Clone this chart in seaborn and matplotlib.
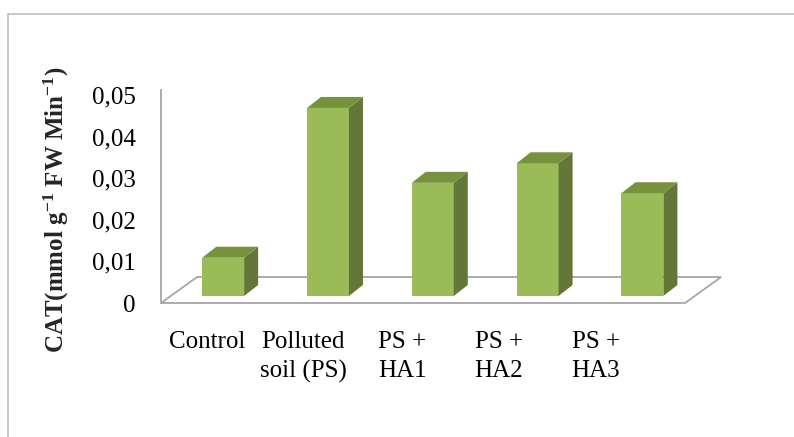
import matplotlib
matplotlib.use("Agg")
import matplotlib.pyplot as plt
from matplotlib.patches import Polygon
from matplotlib.lines import Line2D
from matplotlib.ticker import FuncFormatter
from matplotlib.transforms import Affine2D
import seaborn as sns

# Data
categories = ["Control", "Polluted\nsoil (PS)", "PS +\nHA1", "PS +\nHA2", "PS +\nHA3"]
cat_values = [0.0092, 0.0452, 0.0272, 0.0319, 0.0247]
y_ticks = [0, 0.01, 0.02, 0.03, 0.04, 0.05]

sns.set_theme(style="white")
plt.rcParams["font.family"] = ["Liberation Serif", "DejaVu Serif"]
plt.rcParams["mathtext.fontset"] = "custom"
plt.rcParams["mathtext.rm"] = "Liberation Serif:bold"
plt.rcParams["mathtext.default"] = "rm"

FRONT = "#9BBB59"
TOP = "#77923C"
SIDE = "#637838"
GRID = "#a6a6a6"

fig = plt.figure(figsize=(7.94, 4.37), dpi=100)
ax = fig.add_axes([161 / 794, 134 / 437, 566 / 794, 213 / 437])

# oblique depth of the floor (category units, value units)
floor_dx, floor_dy = 0.344, 0.00625
# bars sit partway into the floor and have their own depth
bar_depth_frac = 0.27
bar_dx, bar_dy = 0.134, 0.00264

sns.barplot(x=categories, y=cat_values, ax=ax, color=FRONT, saturation=1,
            width=0.40, edgecolor="none", linewidth=0, zorder=3)

shift = Affine2D().translate(bar_depth_frac * floor_dx, bar_depth_frac * floor_dy) + ax.transData

for p in list(ax.patches):
    x0, w, h = p.get_x(), p.get_width(), p.get_height()
    p.set_transform(shift)
    p.set_clip_on(False)
    side = Polygon([(x0 + w, 0), (x0 + w + bar_dx, bar_dy),
                    (x0 + w + bar_dx, h + bar_dy), (x0 + w, h)],
                   closed=True, facecolor=SIDE, edgecolor="none",
                   transform=shift, zorder=3, clip_on=False)
    top = Polygon([(x0, h), (x0 + w, h), (x0 + w + bar_dx, h + bar_dy),
                   (x0 + bar_dx, h + bar_dy)],
                  closed=True, facecolor=TOP, edgecolor="none",
                  transform=shift, zorder=3, clip_on=False)
    ax.add_patch(side)
    ax.add_patch(top)

# floor outline
n = len(categories)
floor = Polygon([(-0.5, 0), (n - 0.5, 0), (n - 0.5 + floor_dx, floor_dy),
                 (-0.5 + floor_dx, floor_dy)],
                closed=True, fill=False, edgecolor=GRID, linewidth=1.3,
                zorder=1, clip_on=False)
ax.add_patch(floor)

ax.set_xlim(-0.5, 4.9)
ax.set_ylim(0, 0.0512)

for s in ["top", "right", "bottom"]:
    ax.spines[s].set_visible(False)
ax.spines["left"].set_color(GRID)
ax.spines["left"].set_linewidth(1.3)

ax.set_yticks(y_ticks)
ax.yaxis.set_major_formatter(FuncFormatter(lambda v, _: "0" if v == 0 else f"{v:.2f}".replace(".", ",")))
ax.tick_params(axis="y", length=0, pad=18, labelsize=18, colors="black")

label_pos = [-0.061, 0.855, 1.80, 2.725, 3.65]
ax.set_xticks(label_pos)
ax.set_xticklabels(categories, fontsize=18, linespacing=1.4, multialignment="center")
ax.tick_params(axis="x", length=0, pad=20, colors="black")
ax.set_xlabel("")

ax.set_ylabel(r"CAT(mmol g$^{-1}$ FW Min$^{-1}$)", fontsize=18, fontweight="bold")
ax.yaxis.label.set_verticalalignment("center")
ax.yaxis.set_label_coords(-0.184, 0.44)

# chart-area frame
fig.add_artist(Line2D([7.5 / 794, 1.0], [1 - 13.5 / 437, 1 - 13.5 / 437],
                      transform=fig.transFigure, color="#bdbdbd", linewidth=1.2))
fig.add_artist(Line2D([7.5 / 794, 7.5 / 794], [0, 1 - 13.5 / 437],
                      transform=fig.transFigure, color="#bdbdbd", linewidth=1.2))

fig.savefig("out.png", dpi=100)
